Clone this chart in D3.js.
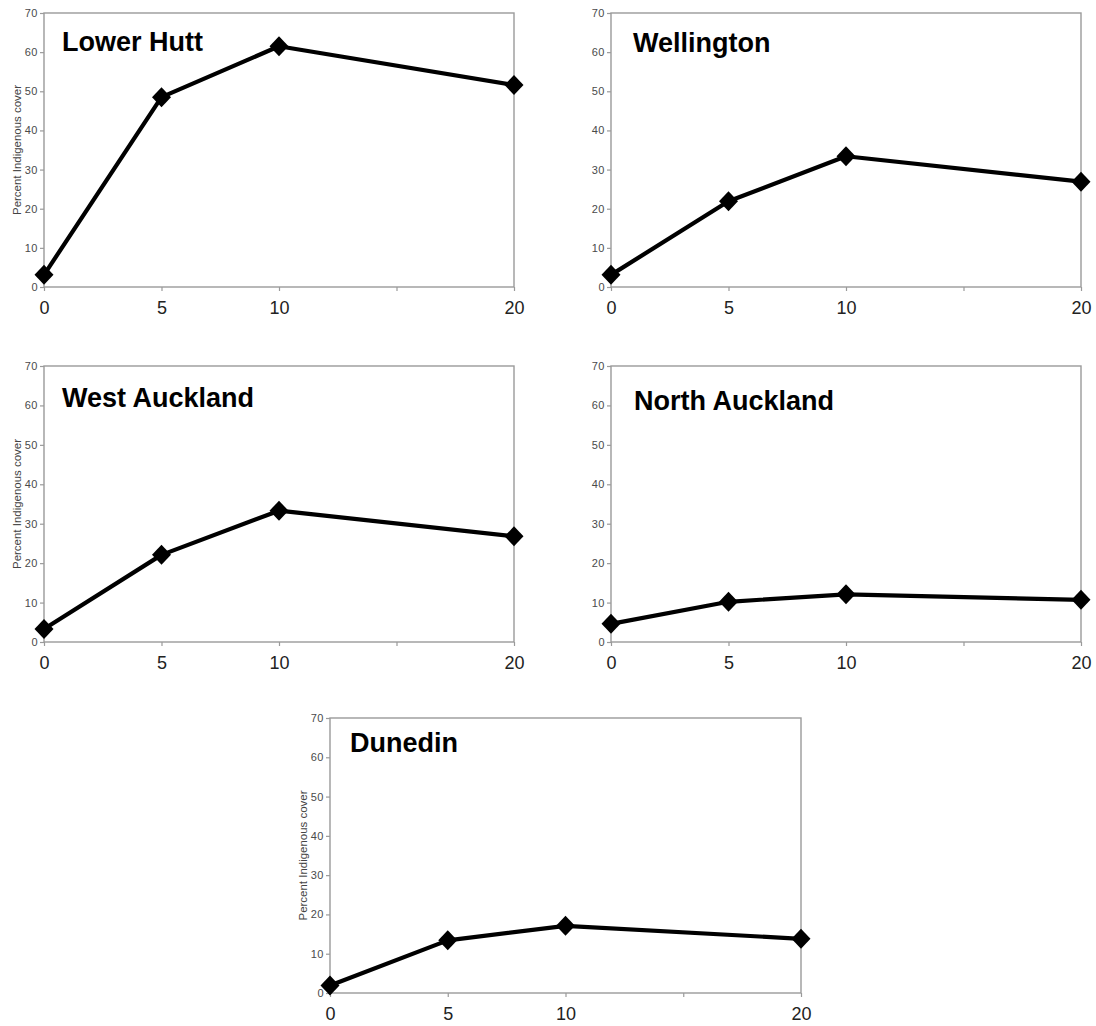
<!DOCTYPE html>
<html>
<head>
<meta charset="utf-8">
<script src="https://cdn.jsdelivr.net/npm/d3@7"></script>
<style>
  html, body { margin: 0; padding: 0; background: #fff; }
  svg { display: block; }
</style>
</head>
<body>
<svg id="chart" width="1096" height="1026"></svg>
<script>
// ---- Data ----
const regions = ["Lower Hutt", "Wellington", "West Auckland", "North Auckland", "Dunedin"];
const xValues = [0, 5, 10, 20];
const lowerHutt = [3.1, 48.5, 61.5, 51.6];
const wellington = [3.1, 21.9, 33.4, 26.9];
const westAuckland = [3.3, 22.1, 33.3, 26.8];
const northAuckland = [4.6, 10.2, 12.1, 10.7];
const dunedin = [1.9, 13.4, 17.1, 13.8];
const seriesValues = [lowerHutt, wellington, westAuckland, northAuckland, dunedin];
const yTicks = [0, 10, 20, 30, 40, 50, 60, 70];
const xTicks = [0, 5, 10, 15, 20];
const xTickLabels = ["0", "5", "10", "", "20"];
const yAxisTitle = "Percent Indigenous cover";

// ---- Layout (positions / sizes) ----
const layout = [
  { left: 44,  top: 13,  w: 470, h: 274, tx: 18, ty: 38, ylabel: true },
  { left: 611, top: 13,  w: 470, h: 274, tx: 22, ty: 39, ylabel: false },
  { left: 44,  top: 366, w: 470, h: 276, tx: 18, ty: 41, ylabel: true },
  { left: 611, top: 366, w: 470, h: 276, tx: 23, ty: 44, ylabel: false },
  { left: 330, top: 718, w: 471, h: 275, tx: 20, ty: 34, ylabel: true }
];

const svg = d3.select("#chart");
const axisColor = "#9a9a9a";
const fontFam = "'Liberation Sans', Arial, Helvetica, sans-serif";

regions.forEach((name, i) => {
  const L = layout[i];
  const vals = seriesValues[i];
  const g = svg.append("g").attr("transform", `translate(${L.left},${L.top})`);

  const x = d3.scaleLinear().domain([0, 20]).range([0, L.w]);
  const y = d3.scaleLinear().domain([0, 70]).range([L.h, 0]);

  // frame
  g.append("rect")
    .attr("x", 0).attr("y", 0).attr("width", L.w).attr("height", L.h)
    .attr("fill", "none").attr("stroke", axisColor).attr("stroke-width", 1.4);

  // y axis
  const yAxis = g.append("g")
    .call(d3.axisLeft(y).tickValues(yTicks).tickSize(4).tickPadding(2).tickFormat(d3.format("d")));
  yAxis.select(".domain").remove();
  yAxis.selectAll("line").attr("stroke", axisColor).attr("stroke-width", 1.2);
  yAxis.selectAll("text")
    .attr("fill", "#4a4a4a")
    .style("font-family", fontFam)
    .style("font-size", "11px")
    .style("letter-spacing", "0.5px");

  // x axis
  const xAxis = g.append("g")
    .attr("transform", `translate(0,${L.h})`)
    .call(d3.axisBottom(x).tickValues(xTicks).tickSize(4).tickPadding(10)
      .tickFormat((d, k) => xTickLabels[k]));
  xAxis.select(".domain").remove();
  xAxis.selectAll("line").attr("stroke", axisColor).attr("stroke-width", 1.2);
  xAxis.selectAll("text")
    .attr("fill", "#222")
    .style("font-family", fontFam)
    .style("font-size", "18px");

  // y axis title
  if (L.ylabel) {
    g.append("text")
      .attr("transform", `translate(-23,${L.h / 2}) rotate(-90)`)
      .attr("text-anchor", "middle")
      .attr("textLength", 130)
      .attr("lengthAdjust", "spacingAndGlyphs")
      .attr("fill", "#444")
      .style("font-family", fontFam)
      .style("font-size", "10px")
      .text(yAxisTitle);
  }

  // panel title
  g.append("text")
    .attr("x", L.tx).attr("y", L.ty)
    .attr("fill", "#000")
    .style("font-family", fontFam)
    .style("font-weight", "bold")
    .style("font-size", "27px")
    .text(name);

  // line
  const pts = xValues.map((xv, k) => [xv, vals[k]]);
  g.append("path")
    .datum(pts)
    .attr("fill", "none")
    .attr("stroke", "#000")
    .attr("stroke-width", 4.2)
    .attr("stroke-linejoin", "round")
    .attr("d", d3.line().x(d => x(d[0])).y(d => y(d[1])));

  // diamond markers
  g.selectAll("path.marker")
    .data(pts)
    .join("path")
    .attr("class", "marker")
    .attr("transform", d => `translate(${x(d[0])},${y(d[1])})`)
    .attr("d", "M0,-10L9.5,0L0,10L-9.5,0Z")
    .attr("fill", "#000");
});
</script>
</body>
</html>
